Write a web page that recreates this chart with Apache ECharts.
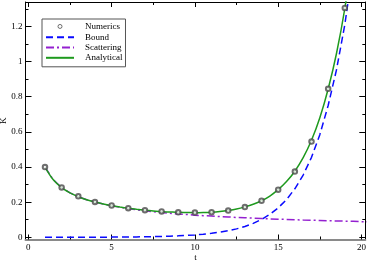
<!DOCTYPE html>
<html>
<head>
<meta charset="utf-8">
<script src="https://cdn.jsdelivr.net/npm/echarts@6/dist/echarts.min.js"></script>
<style>html,body{margin:0;padding:0;background:#fff}#c{width:367px;height:260px}</style>
</head>
<body>
<div id="c"></div>
<script>
// Data
var numT = [1,2,3,4,5,6,7,8,9,10,11,12,13,14,15,16,17,18,19];
var numerics = [0.400,0.284,0.233,0.201,0.181,0.166,0.154,0.147,0.142,0.141,0.143,0.152,0.172,0.208,0.271,0.374,0.545,0.845,1.305];

var curveT = [1,1.5,2,2.5,3,3.5,4,4.5,5,5.5,6,6.5,7,7.5,8,8.5,9,9.5,10,10.5,11,11.5,12,12.5,13,13.5,14,14.5,15,15.5,16,16.5,17,17.5,18,18.5,19,19.5,20,20.5];
var bound = [0.0002,0.0002,0.0003,0.0003,0.0004,0.0005,0.0007,0.0009,0.0011,0.0014,0.0019,0.0024,0.0031,0.0039,0.0051,0.0065,0.0083,0.0107,0.0137,0.0176,0.0227,0.0291,0.0373,0.0479,0.0616,0.0790,0.1015,0.1303,0.1673,0.2149,0.2759,0.3543,0.4549,0.5841,0.750,0.953,1.210,1.54,null,null];
var scattering = [0.400,0.327,0.283,0.253,0.231,0.214,0.200,0.189,0.179,0.171,0.163,0.157,0.151,0.146,0.141,0.137,0.133,0.130,0.126,0.123,0.121,0.118,0.116,0.113,0.111,0.109,0.107,0.105,0.103,0.102,0.100,0.098,0.097,0.096,0.094,0.093,0.092,0.091,0.089,0.088];
var analytical = [0.400,0.327,0.283,0.253,0.231,0.214,0.201,0.190,0.180,0.172,0.165,0.159,0.154,0.150,0.146,0.144,0.142,0.141,0.140,0.141,0.143,0.147,0.153,0.161,0.173,0.188,0.208,0.235,0.271,0.317,0.376,0.453,0.552,0.680,0.844,1.046,1.302,1.63,null,null];

var xMajor = [0,5,10,15,20];
var xMinor = [2.5,7.5,12.5,17.5];
var yMajor = [0,0.2,0.4,0.6,0.8,1,1.2];
var yMinor = [0.1,0.3,0.5,0.7,0.9,1.1,1.3];

var X_MIN = -0.17, X_MAX = 20.23, Y_MIN = -0.0125, Y_MAX = 1.339;
var FONT = 'Liberation Serif';

function pairs(t, v){ var o=[]; for(var i=0;i<t.length;i++){ if(v[i]!==null) o.push([t[i], v[i]]); } return o; }

function axis(kind, pos, vals, len, opts){
  var a = {
    type:'value', position:pos, min: kind==='x'?X_MIN:Y_MIN, max: kind==='x'?X_MAX:Y_MAX,
    splitLine:{show:false},
    axisLine:{show:false, onZero:false},
    axisTick:{show:true, inside:true, length:len, customValues:vals, lineStyle:{color:'#000', width:1}},
    axisLabel:{show:false}
  };
  if (opts) for (var k in opts) a[k]=opts[k];
  return a;
}

var xAxes = [
  axis('x','bottom',xMajor,5,{
    axisLine:{show:true,onZero:false,lineStyle:{color:'#8a8a8a',width:2}},
    axisLabel:{show:true,customValues:xMajor,color:'#000',fontFamily:FONT,fontSize:9,margin:4},
    name:'t', nameLocation:'middle', nameGap:14, nameMoveOverlap:false,
    nameTextStyle:{color:'#000',fontFamily:FONT,fontSize:9}
  }),
  axis('x','bottom',xMinor,3),
  axis('x','top',xMajor,5,{axisLine:{show:true,onZero:false,lineStyle:{color:'#000',width:1}}}),
  axis('x','top',xMinor,3)
];
var yAxes = [
  axis('y','left',yMajor,6,{
    axisLine:{show:true,onZero:false,lineStyle:{color:'#000',width:1}},
    axisLabel:{show:true,customValues:yMajor,color:'#000',fontFamily:FONT,fontSize:9,margin:3},
    name:'K', nameLocation:'middle', nameGap:17.5, nameRotate:90, nameMoveOverlap:false,
    nameTextStyle:{color:'#000',fontFamily:FONT,fontSize:9}
  }),
  axis('y','left',yMinor,3),
  axis('y','right',yMajor,6,{axisLine:{show:true,onZero:false,lineStyle:{color:'#000',width:1}}}),
  axis('y','right',yMinor,3)
];

var hideSym = {color:'transparent', borderColor:'transparent', borderWidth:0};
var circleIcon = 'path://M0,0 M28,10 M16,5 A2,2 0 1 1 12,5 A2,2 0 1 1 16,5 Z';

var chart = echarts.init(document.getElementById('c'), null, {renderer:'canvas'});
chart.setOption({
  animation:false,
  backgroundColor:'#fff',
  grid:{left:25.5, right:1.7, top:2, bottom:20.5, containLabel:false, outerBoundsMode:'none'},
  xAxis:xAxes,
  yAxis:yAxes,
  legend:{
    orient:'vertical', left:42, top:19,
    padding:[2,3,4,3], itemGap:0.3, itemWidth:28, itemHeight:10,
    backgroundColor:'#fff', borderColor:'#555', borderWidth:1, borderRadius:0,
    textStyle:{color:'#000', fontFamily:FONT, fontSize:9, padding:[0,0,0,6], lineHeight:10},
    data:[
      {name:'Numerics', icon:circleIcon, itemStyle:{color:'#fff', borderColor:'#3a3a3a', borderWidth:0.9}},
      {name:'Bound', itemStyle:hideSym},
      {name:'Scattering', itemStyle:hideSym},
      {name:'Analytical', itemStyle:hideSym}
    ]
  },
  series:[
    {name:'Bound', type:'line', symbol:'none', data:pairs(curveT,bound), z:2,
     lineStyle:{color:'#0a0aff', width:1.5, type:[7,4]}, itemStyle:{color:'#0a0aff'}},
    {name:'Scattering', type:'line', symbol:'none', data:pairs(curveT,scattering), z:2,
     lineStyle:{color:'#9420d0', width:1.5, type:[8,3,2,3]}, itemStyle:{color:'#9420d0'}},
    {name:'Analytical', type:'line', symbol:'none', data:pairs(curveT,analytical), z:3, smooth:0.3,
     lineStyle:{color:'#1e9a1e', width:1.5, type:'solid'}, itemStyle:{color:'#1e9a1e'}},
    {name:'Numerics', type:'scatter', symbol:'emptyCircle', symbolSize:4.5, data:pairs(numT,numerics), z:4,
     itemStyle:{color:'#4a4a4a', borderColor:'#4a4a4a', borderWidth:0.8}}
  ]
});
</script>
</body>
</html>
